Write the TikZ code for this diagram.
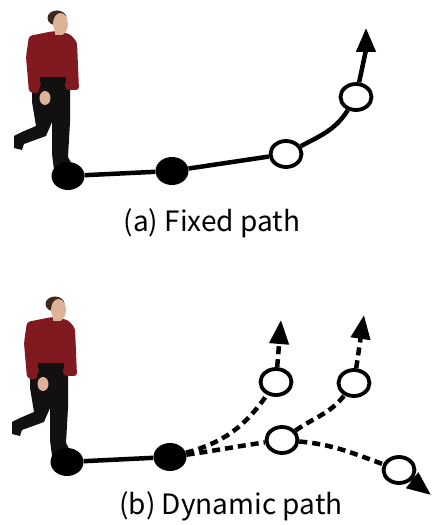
\documentclass[tikz,border=0pt]{standalone}
\usepackage{fontspec}
\newfontfamily\capfont{Noto Sans CJK JP}
\usetikzlibrary{shapes.geometric,arrows.meta}

\definecolor{shirtred}{RGB}{128,26,32}
\definecolor{skin}{RGB}{222,178,150}
\definecolor{hairc}{RGB}{62,40,30}
\definecolor{trouser}{RGB}{18,16,16}

\tikzset{
  fixpt/.style={ellipse, fill=black, inner sep=0pt,
    minimum width=33pt, minimum height=28pt},
  freept/.style={ellipse, draw, fill=white, line width=3.8pt, inner sep=0pt,
    minimum width=31pt, minimum height=26pt},
  trail/.style={line width=4.5pt},
  branch/.style={line width=4.5pt, dash pattern=on 8pt off 5pt},
  head/.style={-{Triangle[length=24pt,width=19pt]}},
  caption/.style={font=\capfont\fontsize{28}{32}\selectfont},
  walker/.pic={
    % back leg
    \fill[trouser] (-26,-60) -- (-6,-62) -- (-6,-100) -- (-12,-114) -- (-34,-122)
      -- (-36,-128) -- (-44,-126) -- (-44,-114) -- (-36,-110) -- (-22,-104)
      -- (-26,-80) -- cycle;
    % standing leg
    \fill[trouser] (-14,-60) -- (12,-60) -- (12,-100) -- (10,-135) -- (16,-146)
      -- (-4,-148) -- (-6,-132) -- (-6,-100) -- cycle;
    % shirt
    \fill[shirtred, rounded corners=3pt] (-29,-14) -- (-4,-9) -- (12,-12) -- (19,-20)
      -- (21,-68) -- (8,-68) -- (6,-58) -- (-16,-58) -- (-20,-72) -- (-29,-70)
      -- (-32,-35) -- cycle;
    \fill[trouser] (-18,-55) rectangle (8,-61);
    \fill[skin] (-13,-76) ellipse (5.5 and 7);
    % head
    \fill[skin] (-3,-8) rectangle (5,-13);
    \fill[hairc] (-1,4) ellipse (9.5 and 7.5);
    \fill[skin] (2.5,-2) ellipse (7.5 and 11);
  },
}

\begin{document}
\begin{tikzpicture}[x=1pt,y=1pt]
  \useasboundingbox (0,0) rectangle (432,525);

  % (a) fixed path
  \pic at (58,503) {walker};
  \node[fixpt] (a1) at (68,349) {};
  \node[fixpt] (a2) at (172,354) {};
  \node[freept] (a3) at (286,371) {};
  \node[freept] (a4) at (356,428) {};
  \coordinate (ta) at (366,497);
  \draw[trail] (a1) -- (a2) -- (a3);
  \draw[trail] (a3) to[out=28,in=-122] (a4);
  \draw[trail,head] (a4) to[out=78,in=-90] (ta);
  \node[caption] (capa) at (212,302) {(a) Fixed path};

  % (b) dynamic path
  \pic at (56,217) {walker};
  \node[fixpt] (b1) at (67,63) {};
  \node[fixpt] (b2) at (170,68) {};
  \node[freept] (b3) at (282,85) {};
  \node[freept] (b4) at (276,143) {};
  \node[freept] (b5) at (354,142) {};
  \node[freept] (b6) at (399,55) {};
  \coordinate (tb4) at (281,205);
  \coordinate (tb5) at (364,210);
  \coordinate (tb6) at (431,30);
  \draw[trail] (b1) -- (b2);
  \draw[branch] (b2) to[out=8,in=188] (b3);
  \draw[branch] (b2) to[out=15,in=-125] (b4);
  \draw[branch] (b3) to[out=35,in=-128] (b5);
  \draw[branch] (b3) to[out=-5,in=160] (b6);
  \draw[branch,head] (b4) -- (tb4);
  \draw[branch,head] (b5) -- (tb5);
  \draw[branch,head] (b6) -- (tb6);
  \node[caption] (capb) at (231,19) {(b) Dynamic path};
\end{tikzpicture}
\end{document}
